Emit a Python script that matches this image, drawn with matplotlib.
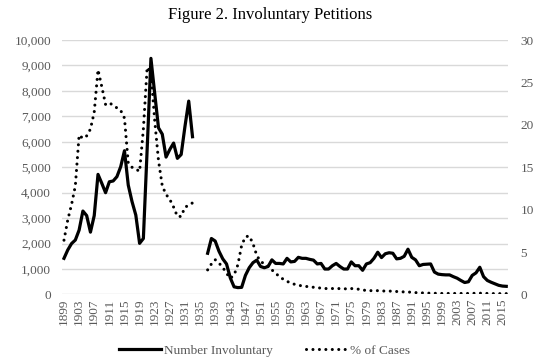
import numpy as np
import matplotlib
matplotlib.use("Agg")
import matplotlib.pyplot as plt
from matplotlib.ticker import FuncFormatter

# data (1899-1933, gap 1934-1936, 1937-2016)
years = list(range(1899, 2017))

number_early = [1420, 1750, 2000, 2140, 2530, 3280, 3100, 2450, 3100, 4720,
                4370, 4000, 4430, 4460, 4630, 5020, 5650, 4300, 3650, 3120,
                2010, 2200, 5700, 9280, 7900, 6550, 6300, 5400, 5700, 5950,
                5350, 5500, 6600, 7600, 6200]
number_late = [1620, 2200, 2100, 1700, 1400, 1200, 650, 300, 270, 280,
               750, 1050, 1250, 1350, 1100, 1050, 1100, 1360, 1220, 1220,
               1200, 1420, 1280, 1300, 1460, 1420, 1420, 1380, 1350, 1200,
               1220, 1000, 1000, 1130, 1220, 1100, 1000, 1000, 1280, 1130,
               1130, 950, 1200, 1250, 1420, 1660, 1450, 1600, 1640, 1620,
               1400, 1420, 1500, 1780, 1460, 1360, 1130, 1180, 1190, 1200,
               880, 800, 780, 770, 770, 700, 640, 550, 470, 500,
               750, 850, 1070, 700, 550, 480, 420, 360, 330, 320]

pct_early = [6.4, 8.8, 10.6, 12.8, 18.8, 18.4, 18.7, 19.5, 21.5, 26.5,
             24.5, 22.4, 22.6, 22.3, 22.0, 21.7, 20.8, 15.5, 15.0, 14.8,
             14.5, 19.5, 26.8, 26.2, 20.5, 15.8, 12.8, 11.8, 11.2, 10.3,
             9.2, 9.2, 10.3, 10.5, 10.8]
pct_late = [2.9, 3.6, 4.1, 3.7, 3.2, 2.5, 1.9, 2.3, 3.5, 5.8,
            6.8, 6.9, 6.0, 4.6, 3.9, 3.6, 3.3, 2.9, 2.5, 2.1,
            1.8, 1.55, 1.35, 1.2, 1.1, 1.0, 0.95, 0.9, 0.85, 0.8,
            0.75, 0.7, 0.7, 0.7, 0.68, 0.7, 0.68, 0.65, 0.7, 0.65,
            0.62, 0.55, 0.45, 0.45, 0.45, 0.45, 0.42, 0.4, 0.4, 0.38,
            0.35, 0.33, 0.3, 0.3, 0.25, 0.22, 0.2, 0.18, 0.16, 0.15,
            0.14, 0.13, 0.12, 0.12, 0.12, 0.12, 0.12, 0.12, 0.12, 0.12,
            0.13, 0.14, 0.15, 0.13, 0.12, 0.11, 0.1, 0.1, 0.1, 0.1]

gap = [np.nan] * 3
number = np.array(number_early + gap + number_late, dtype=float)
pct = np.array(pct_early + gap + pct_late, dtype=float)

serif = "Liberation Serif"
grey = "#595959"

fig = plt.figure(figsize=(5.4, 3.64), dpi=100)
ax = fig.add_axes([0.115, 0.191, 0.826, 0.699])
ax2 = ax.twinx()

l1, = ax.plot(years, number, color="black", lw=2.3, solid_joinstyle="round",
              label="Number Involuntary", zorder=3)
l2, = ax2.plot(years, pct, color="black", lw=2.2, linestyle=(0, (0.01, 2.1)),
               dash_capstyle="round", label="% of Cases")

ax.set_xlim(1898.5, 2016.5)
ax.set_ylim(0, 10000)
ax2.set_ylim(0, 30)
ax.set_yticks(range(0, 10001, 1000))
ax2.set_yticks(range(0, 31, 5))
ax.yaxis.set_major_formatter(FuncFormatter(lambda v, p: "{:,.0f}".format(v)))
ax.set_xticks(years[::4])
ax.set_xticklabels([str(y) for y in years[::4]], rotation=90)

ax.grid(axis="y", color="#d9d9d9", lw=1)
ax.set_axisbelow(True)
for a in (ax, ax2):
    for s in a.spines.values():
        s.set_visible(False)
    a.tick_params(length=0, labelcolor=grey, labelsize=9.5)
    for t in a.get_xticklabels() + a.get_yticklabels():
        t.set_fontfamily(serif)
ax.tick_params(axis="y", pad=8)
ax2.tick_params(axis="y", pad=9)
ax.tick_params(axis="x", pad=3, labelsize=9.5)

fig.suptitle("Figure 2. Involuntary Petitions", family=serif, fontsize=12,
             x=0.5, y=0.98)
fig.legend([l1, l2], ["Number Involuntary", "% of Cases"], loc="center",
           bbox_to_anchor=(0.49, 0.037), ncol=2, frameon=False,
           prop={"family": serif, "size": 9.5}, labelcolor=grey,
           handlelength=3.2, handletextpad=0.2, columnspacing=2.5)

fig.savefig("out.png", dpi=100)
